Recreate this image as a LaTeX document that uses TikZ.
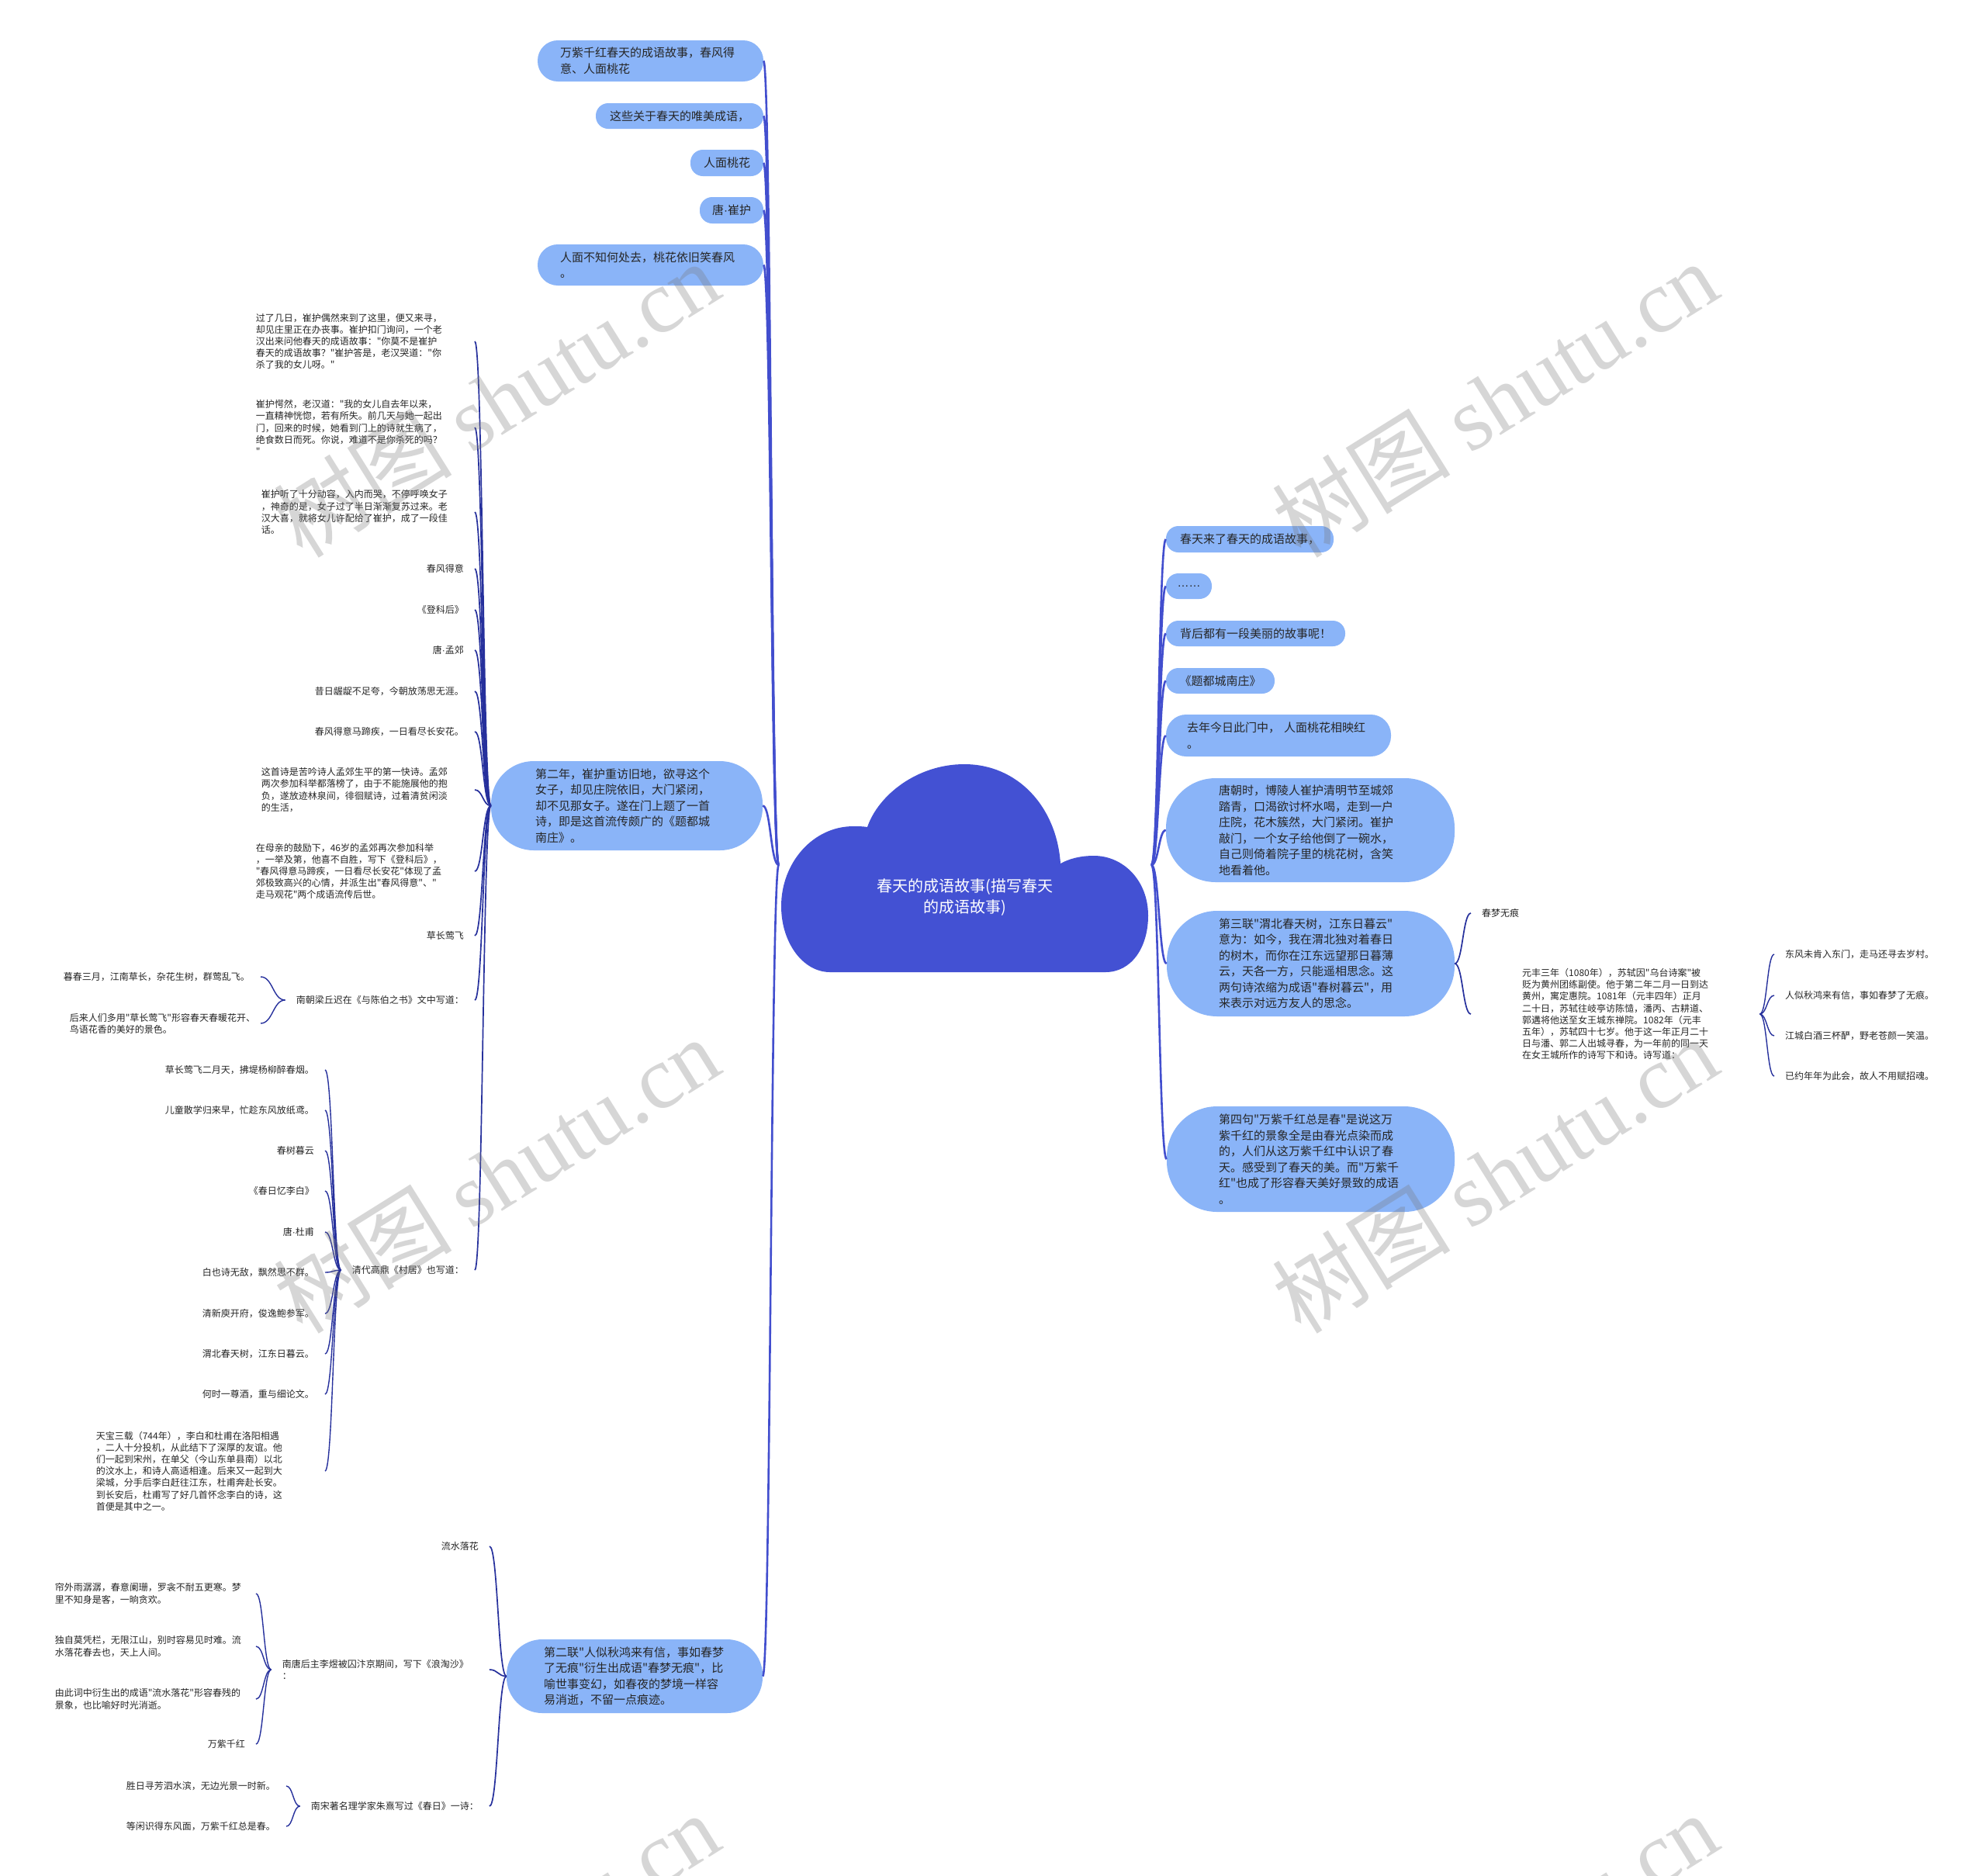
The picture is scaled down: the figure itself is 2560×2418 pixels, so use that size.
\documentclass[tikz,border=0pt]{standalone}
\usepackage{fontspec}
\setmainfont{Noto Sans CJK SC}
\newfontfamily\cjk{Noto Sans CJK SC}
\newfontfamily\wmserif{Liberation Serif}
\newfontfamily\latsans{Liberation Sans}
\newcommand\mdot{{\latsans ·}}
\usetikzlibrary{calc}
\definecolor{cloudc}{RGB}{67,81,211}
\definecolor{boxc}{RGB}{138,180,248}
\definecolor{mainln}{RGB}{66,78,206}
\definecolor{subln}{RGB}{38,48,156}
\definecolor{txt}{RGB}{38,38,38}
\definecolor{wmc}{RGB}{120,120,120}
\newcommand\mmlink[3]{\draw[#1] let \p1=(#2), \p2=(#3) in (\p1) .. controls ({0.5*\x1+0.5*\x2},\y1) and ({0.5*\x1+0.5*\x2},\y2) .. (\p2);}
\tikzset{
 bnode/.style={fill=boxc, text=txt, font=\cjk\fontsize{15}{20.5}\selectfont, inner sep=0pt, align=left},
 leaf/.style={text=txt, font=\cjk\fontsize{12}{15.2}\selectfont, inner xsep=14pt, inner ysep=2pt, align=left},
 mainl/.style={draw=mainln, line width=2.6pt},
 subl/.style={draw=subln, line width=1.7pt},
 leafl/.style={draw=subln, line width=1.4pt},
 wm/.style={text=wmc, text opacity=0.30, font=\cjk\fontsize{115}{120}\selectfont, rotate=32, inner sep=0pt},
}
\begin{document}
\begin{tikzpicture}[x=1pt,y={(0,-1pt)}]
\useasboundingbox (0,0) rectangle (2560,2418);
\fill[white] (0,0) rectangle (2560,2418);

% cloud root
\fill[cloudc] (1070,1253) -- (1425,1253) .. controls (1458,1253) and (1480,1222) .. (1480,1180) .. controls (1480,1135) and (1448,1103) .. (1410,1103) .. controls (1392,1103) and (1378,1107) .. (1367,1113) .. controls (1362,1040) and (1312,985) .. (1243,985) .. controls (1182,985) and (1132,1025) .. (1118,1066) .. controls (1112,1065) and (1106,1065) .. (1100,1065) .. controls (1048,1065) and (1007,1112) .. (1007,1168) .. controls (1007,1215) and (1035,1253) .. (1070,1253) -- cycle;
\node[text=white, font=\cjk\fontsize{20}{27}\selectfont, align=center, minimum width=480pt, minimum height=84pt, inner sep=0pt] (root) at (1244,1157) {春天的成语故事(描写春天\\的成语故事)};

% top-left blue nodes
\node[bnode, minimum width=291pt, minimum height=53pt, rounded corners=26pt, text width=233pt] (t1) at (838.5,78.5) {万紫千红春天的成语故事，春风得\\意、人面桃花};
\node[bnode, minimum width=216pt, minimum height=33pt, rounded corners=16pt] (t2) at (876,149.5) {这些关于春天的唯美成语，};
\node[bnode, minimum width=94pt, minimum height=34pt, rounded corners=16pt] (t3) at (937,210) {人面桃花};
\node[bnode, minimum width=82pt, minimum height=34pt, rounded corners=16pt] (t4) at (943,271) {唐\mdot 崔护};
\node[bnode, minimum width=291pt, minimum height=53pt, rounded corners=26pt, text width=233pt] (t5) at (838.5,341.5) {人面不知何处去，桃花依旧笑春风\\。};

\node[bnode, minimum width=350pt, minimum height=115pt, rounded corners=55pt, text width=236pt] (n2) at (808,1038.5) {第二年，崔护重访旧地，欲寻这个\\女子，却见庄院依旧，大门紧闭，\\却不见那女子。遂在门上题了一首\\诗，即是这首流传颇广的《题都城\\南庄》。};
\node[bnode, minimum width=330pt, minimum height=95pt, rounded corners=46pt, text width=234pt] (n3) at (818,2160.5) {第二联"人似秋鸿来有信，事如春梦\\了无痕"衍生出成语"春梦无痕"，比\\喻世事变幻，如春夜的梦境一样容\\易消逝，不留一点痕迹。};

% right blue nodes
\node[bnode, minimum width=216pt, minimum height=34pt, rounded corners=16pt] (r1) at (1611,695) {春天来了春天的成语故事，};
\node[bnode, minimum width=59pt, minimum height=33pt, rounded corners=16pt] (r2) at (1532.5,755.5) {{\latsans ……}};
\node[bnode, minimum width=231pt, minimum height=33pt, rounded corners=16pt] (r3) at (1618.5,816.5) {背后都有一段美丽的故事呢！};
\node[bnode, minimum width=140pt, minimum height=33pt, rounded corners=16pt] (r4) at (1573,877.5) {《题都城南庄》};
\node[bnode, minimum width=290pt, minimum height=54pt, rounded corners=26pt, text width=236pt] (r5) at (1648,948) {去年今日此门中，~人面桃花相映红\\。};
\node[bnode, minimum width=372pt, minimum height=134pt, rounded corners=64pt, text width=236pt] (r6) at (1689,1070) {唐朝时，博陵人崔护清明节至城郊\\踏青，口渴欲讨杯水喝，走到一户\\庄院，花木簇然，大门紧闭。崔护\\敲门，一个女子给他倒了一碗水，\\自己则倚着院子里的桃花树，含笑\\地看着他。};
\node[bnode, minimum width=371pt, minimum height=136pt, rounded corners=65pt, text width=237pt] (r7) at (1689.5,1242) {第三联"渭北春天树，江东日暮云"\\意为：如今，我在渭北独对着春日\\的树木，而你在江东远望那日暮薄\\云，天各一方，只能遥相思念。这\\两句诗浓缩为成语"春树暮云"，用\\来表示对远方友人的思念。};
\node[bnode, minimum width=371pt, minimum height=136pt, rounded corners=65pt, text width=237pt] (r8) at (1689.5,1494) {第四句"万紫千红总是春"是说这万\\紫千红的景象全是由春光点染而成\\的，人们从这万紫千红中认识了春\\天。感受到了春天的美。而"万紫千\\红"也成了形容春天美好景致的成语\\。};

% children of n2
\node[leaf, anchor=east, text width=268pt] (c1) at (612,440) {过了几日，崔护偶然来到了这里，便又来寻，\\却见庄里正在办丧事。崔护扣门询问，一个老\\汉出来问他春天的成语故事："你莫不是崔护\\春天的成语故事？"崔护答是，老汉哭道："你\\杀了我的女儿呀。"};
\node[leaf, anchor=east, text width=268pt] (c2) at (612,551) {崔护愕然，老汉道："我的女儿自去年以来，\\一直精神恍惚，若有所失。前几天与她一起出\\门，回来的时候，她看到门上的诗就生病了，\\绝食数日而死。你说，难道不是你杀死的吗？\\"};
\node[leaf, anchor=east, text width=261pt] (c3) at (612,660) {崔护听了十分动容，入内而哭，不停呼唤女子\\，神奇的是，女子过了半日渐渐复苏过来。老\\汉大喜，就将女儿许配给了崔护，成了一段佳\\话。};
\node[leaf, anchor=east] (c4) at (612,733) {春风得意};
\node[leaf, anchor=east] (c5) at (612,786) {《登科后》};
\node[leaf, anchor=east] (c6) at (612,838) {唐\mdot 孟郊};
\node[leaf, anchor=east] (c7) at (612,891) {昔日龌龊不足夸，今朝放荡思无涯。};
\node[leaf, anchor=east] (c8) at (612,943) {春风得意马蹄疾，一日看尽长安花。};
\node[leaf, anchor=east, text width=261pt] (c9) at (612,1018) {这首诗是苦吟诗人孟郊生平的第一快诗。孟郊\\两次参加科举都落榜了，由于不能施展他的抱\\负，遂放迹林泉间，徘徊赋诗，过着清贫闲淡\\的生活，};
\node[leaf, anchor=east, text width=268pt] (c10) at (612,1123) {在母亲的鼓励下，46岁的孟郊再次参加科举\\，一举及第，他喜不自胜，写下《登科后》，\\"春风得意马蹄疾，一日看尽长安花"体现了孟\\郊极致高兴的心情，并派生出"春风得意"、"\\走马观花"两个成语流传后世。};
\node[leaf, anchor=east] (c11) at (612,1206) {草长莺飞};
\node[leaf, anchor=east] (nc) at (612,1289) {南朝梁丘迟在《与陈伯之书》文中写道：};
\node[leaf, anchor=east] (qd) at (612,1637) {清代高鼎《村居》也写道：};

% children of nc
\node[leaf, anchor=east] (m1) at (336,1259) {暮春三月，江南草长，杂花生树，群莺乱飞。};
\node[leaf, anchor=east, text width=232pt] (m2) at (336,1319) {后来人们多用"草长莺飞"形容春天春暖花开、\\鸟语花香的美好的景色。};

% children of qd
\node[leaf, anchor=east] (q1) at (419,1379) {草长莺飞二月天，拂堤杨柳醉春烟。};
\node[leaf, anchor=east] (q2) at (419,1431) {儿童散学归来早，忙趁东风放纸鸢。};
\node[leaf, anchor=east] (q3) at (419,1483) {春树暮云};
\node[leaf, anchor=east] (q4) at (419,1535) {《春日忆李白》};
\node[leaf, anchor=east] (q5) at (419,1588) {唐\mdot 杜甫};
\node[leaf, anchor=east] (q6) at (419,1640) {白也诗无敌，飘然思不群。};
\node[leaf, anchor=east] (q7) at (419,1693) {清新庾开府，俊逸鲍参军。};
\node[leaf, anchor=east] (q8) at (419,1745) {渭北春天树，江东日暮云。};
\node[leaf, anchor=east] (q9) at (419,1797) {何时一尊酒，重与细论文。};
\node[leaf, anchor=east, text width=281pt] (q10) at (419,1896) {天宝三载（744年），李白和杜甫在洛阳相遇\\，二人十分投机，从此结下了深厚的友谊。他\\们一起到宋州，在单父（今山东单县南）以北\\的汶水上，和诗人高适相逢。后来又一起到大\\梁城，分手后李白赶往江东，杜甫奔赴长安。\\到长安后，杜甫写了好几首怀念李白的诗，这\\首便是其中之一。};

% children of n3
\node[leaf, anchor=east] (l1) at (631,1993) {流水落花};
\node[leaf, anchor=east, text width=253pt] (l2) at (631,2152) {南唐后主李煜被囚汴京期间，写下《浪淘沙》\\：};
\node[leaf, anchor=east] (l3) at (631,2328) {南宋著名理学家朱熹写过《春日》一诗：};

\node[leaf, anchor=east, text width=245pt] (k1) at (330,2054) {帘外雨潺潺，春意阑珊，罗衾不耐五更寒。梦\\里不知身是客，一晌贪欢。};
\node[leaf, anchor=east, text width=245pt] (k2) at (330,2122) {独自莫凭栏，无限江山，别时容易见时难。流\\水落花春去也，天上人间。};
\node[leaf, anchor=east, text width=245pt] (k3) at (330,2190) {由此词中衍生出的成语"流水落花"形容春残的\\景象，也比喻好时光消逝。};
\node[leaf, anchor=east] (k4) at (330,2248) {万紫千红};

\node[leaf, anchor=east] (s1) at (369,2302) {胜日寻芳泗水滨，无边光景一时新。};
\node[leaf, anchor=east] (s2) at (369,2354) {等闲识得东风面，万紫千红总是春。};

% children of r7
\node[leaf, anchor=west] (p1) at (1896,1177) {春梦无痕};
\node[leaf, anchor=west, inner xsep=66pt, text width=240pt] (p2) at (1896,1307) {元丰三年（1080年），苏轼因"乌台诗案"被\\贬为黄州团练副使。他于第二年二月一日到达\\黄州，寓定惠院。1081年（元丰四年）正月\\二十日，苏轼往岐亭访陈慥，潘丙、古耕道、\\郭遘将他送至女王城东禅院。1082年（元丰\\五年），苏轼四十七岁。他于这一年正月二十\\日与潘、郭二人出城寻春，为一年前的同一天\\在女王城所作的诗写下和诗。诗写道：};
\node[leaf, anchor=west] (v1) at (2287,1230) {东风未肯入东门，走马还寻去岁村。};
\node[leaf, anchor=west] (v2) at (2287,1283) {人似秋鸿来有信，事如春梦了无痕。};
\node[leaf, anchor=west] (v3) at (2287,1335) {江城白酒三杯酽，野老苍颜一笑温。};
\node[leaf, anchor=west] (v4) at (2287,1387) {已约年年为此会，故人不用赋招魂。};

% connectors
\foreach \nd in {t1,t2,t3,t4,t5,n2,n3} {\mmlink{mainl}{root.north west}{\nd.east}}
\foreach \nd in {r1,r2,r3,r4,r5,r6,r7,r8} {\mmlink{mainl}{root.north east}{\nd.west}}
\foreach \nd in {c1,c2,c3,c4,c5,c6,c7,c8,c9,c10,c11,nc,qd} {\mmlink{subl}{n2.west}{\nd.east}}
\foreach \nd in {m1,m2} {\mmlink{leafl}{nc.west}{\nd.east}}
\foreach \nd in {q1,q2,q3,q4,q5,q6,q7,q8,q9,q10} {\mmlink{leafl}{qd.west}{\nd.east}}
\foreach \nd in {l1,l2,l3} {\mmlink{subl}{n3.west}{\nd.east}}
\foreach \nd in {k1,k2,k3,k4} {\mmlink{leafl}{l2.west}{\nd.east}}
\foreach \nd in {s1,s2} {\mmlink{leafl}{l3.west}{\nd.east}}
\foreach \nd in {p1,p2} {\mmlink{subl}{r7.east}{\nd.west}}
\foreach \nd in {v1,v2,v3,v4} {\mmlink{leafl}{p2.east}{\nd.west}}

% watermarks
\node[wm] (wm1) at (640,514) {树图 {\wmserif shutu.cn}};
\node[wm] (wm2) at (1927,514) {树图 {\wmserif shutu.cn}};
\node[wm] (wm3) at (640,1514) {树图 {\wmserif shutu.cn}};
\node[wm] (wm4) at (1927,1514) {树图 {\wmserif shutu.cn}};
\node[wm] (wm5) at (640,2514) {树图 {\wmserif shutu.cn}};
\node[wm] (wm6) at (1927,2514) {树图 {\wmserif shutu.cn}};
\end{tikzpicture}
\end{document}
